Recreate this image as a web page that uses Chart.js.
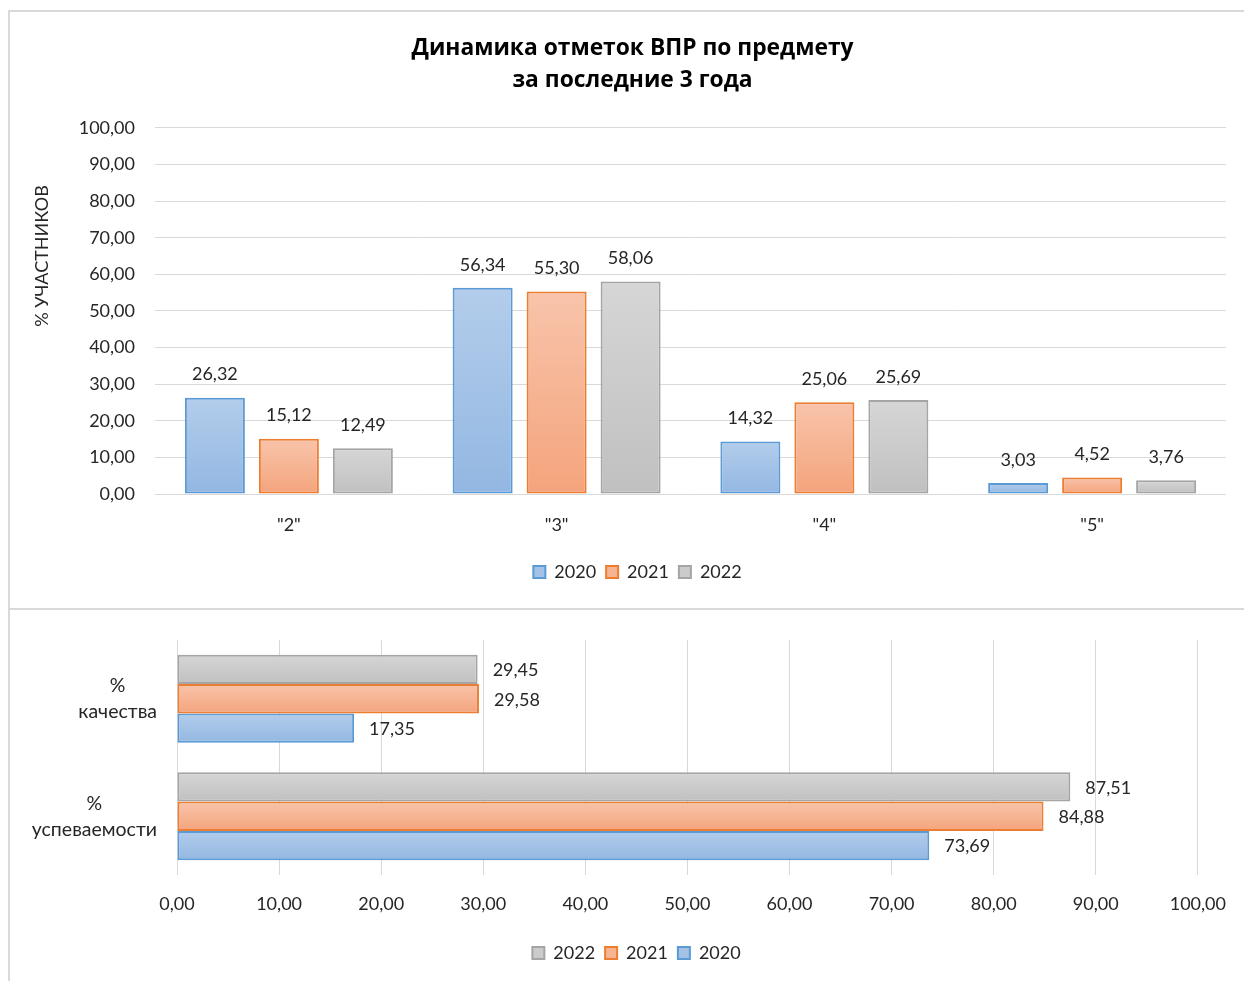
<!DOCTYPE html>
<html><head><meta charset="utf-8">
<script src="https://cdn.jsdelivr.net/npm/chart.js@4.4.0/dist/chart.umd.min.js"></script>
<style>
html,body{margin:0;padding:0;background:#fff;width:1244px;height:981px;overflow:hidden;}
.ln{position:absolute;background:#d9d9d9;}
#c1wrap{position:absolute;left:11px;top:12px;width:1233px;height:597px;}
#c2wrap{position:absolute;left:11px;top:611px;width:1233px;height:370px;}
</style></head>
<body>
<div class="ln" style="left:9px;top:10px;width:1235px;height:2px;"></div>
<div class="ln" style="left:8px;top:10px;width:2px;height:971px;"></div>
<div class="ln" style="left:8px;top:608px;width:1236px;height:2px;"></div>
<div id="c1wrap"><canvas id="c1" width="1233" height="597"></canvas></div>
<div id="c2wrap"><canvas id="c2" width="1233" height="370"></canvas></div>
<script>
// ---------- data ----------
const gradeLabels = ['"2"', '"3"', '"4"', '"5"'];
const grades2020 = [26.32, 56.34, 14.32, 3.03];
const grades2021 = [15.12, 55.30, 25.06, 4.52];
const grades2022 = [12.49, 58.06, 25.69, 3.76];

const rateLabels = [['%', 'качества'], ['%', 'успеваемости']];
const rates2020 = [17.35, 73.69];
const rates2021 = [29.58, 84.88];
const rates2022 = [29.45, 87.51];

const yearNames = ['2020', '2021', '2022'];
const chartTitle = ['Динамика отметок ВПР по предмету', 'за последние 3 года'];
const yAxisTitle = '% УЧАСТНИКОВ';

// ---------- styling ----------
const FONT = "Lato, 'Open Sans', sans-serif";
const TXT = '#262626';
const GRID = '#d9d9d9';
const palette = {
  '2020': {top: '#b3cdeb', bot: '#93b7e2', border: '#5b9bd5', mid: '#a3c2e6'},
  '2021': {top: '#f8c4ab', bot: '#f4a47c', border: '#ed7d31', mid: '#f6b493'},
  '2022': {top: '#d6d6d6', bot: '#c0c0c0', border: '#a5a5a5', mid: '#cbcbcb'}
};
const fmt = v => v.toFixed(2).replace('.', ',');

function grad(year, horizontal) {
  const p = palette[year];
  return function (ctx) {
    const el = ctx.element;
    if (ctx.type !== 'data' || !el || el.y === undefined || isNaN(el.y)) return p.mid;
    let y0, y1;
    if (horizontal) { y0 = el.y - el.height / 2; y1 = el.y + el.height / 2; }
    else { y0 = Math.min(el.y, el.base); y1 = Math.max(el.y, el.base); }
    if (!isFinite(y0) || !isFinite(y1) || y1 - y0 < 1) return p.mid;
    const g = ctx.chart.ctx.createLinearGradient(0, y0, 0, y1);
    g.addColorStop(0, p.top); g.addColorStop(1, p.bot);
    return g;
  };
}

function ds(year, data, horizontal) {
  return {
    label: year, data: data,
    backgroundColor: grad(year, horizontal),
    borderColor: palette[year].border,
    borderWidth: 2, borderSkipped: false
  };
}

const valueLabels = {
  id: 'valueLabels',
  afterDatasetsDraw(chart, args, opts) {
    const c = chart.ctx; c.save();
    c.font = opts.font; c.fillStyle = opts.color;
    chart.data.datasets.forEach((d, di) => {
      const meta = chart.getDatasetMeta(di);
      meta.data.forEach((el, i) => {
        const t = fmt(d.data[i]);
        if (opts.horizontal) { c.textAlign = 'left'; c.textBaseline = 'middle'; c.fillText(t, el.x + opts.offset, el.y + 1); }
        else { c.textAlign = 'center'; c.textBaseline = 'middle'; c.fillText(t, el.x, el.y - opts.offset); }
      });
    });
    c.restore();
  }
};

const sideTitle = {
  id: 'sideTitle',
  afterDraw(chart, args, opts) {
    if (!opts.text) return;
    const c = chart.ctx; c.save();
    c.font = opts.font; c.fillStyle = opts.color;
    c.translate(opts.x, opts.y); c.rotate(-Math.PI / 2);
    c.textAlign = 'center'; c.textBaseline = 'middle';
    c.fillText(opts.text, 0, 0);
    c.restore();
  }
};

const catLabels = {
  id: 'catLabels',
  afterDraw(chart, args, opts) {
    if (!opts.enabled) return;
    const c = chart.ctx; c.save();
    c.font = opts.font; c.fillStyle = opts.color;
    c.textAlign = 'center'; c.textBaseline = 'middle';
    const ys = chart.scales.y;
    chart.data.labels.forEach((lab, i) => {
      const lines = Array.isArray(lab) ? lab : [lab];
      const w = Math.max(...lines.map(l => c.measureText(l).width));
      const cx = opts.right - w / 2;
      const cy = ys.getPixelForValue(i);
      const n = lines.length;
      lines.forEach((l, k) => c.fillText(l, cx, cy + (k - (n - 1) / 2) * opts.lineHeight));
    });
    c.restore();
  }
};

// shifts title / legend boxes horizontally after layout
const boxShift = {
  id: 'boxShift',
  afterLayout(chart, args, opts) {
    if (chart.titleBlock && opts.title) { chart.titleBlock.left += opts.title; chart.titleBlock.right += opts.title; }
    if (chart.legend && opts.legend) { chart.legend.left += opts.legend; chart.legend.right += opts.legend; }
  }
};

const legendLabels = {
  font: {family: FONT, size: 18}, color: TXT,
  boxWidth: 12, boxHeight: 12, padding: 10,
  generateLabels(chart) {
    return chart.data.datasets.map((d, i) => ({
      text: d.label, fillStyle: palette[d.label].mid, strokeStyle: palette[d.label].border,
      lineWidth: 2, hidden: false, datasetIndex: i, fontColor: TXT
    }));
  }
};

// ---------- chart 1 ----------
const chart1 = new Chart(document.getElementById('c1'), {
  type: 'bar',
  data: {
    labels: gradeLabels,
    datasets: [ds(yearNames[0], grades2020), ds(yearNames[1], grades2021), ds(yearNames[2], grades2022)]
  },
  plugins: [valueLabels, sideTitle, boxShift],
  options: {
    responsive: false, animation: false, devicePixelRatio: 1,
    layout: {padding: {left: 0, right: 18, top: 0, bottom: 18}},
    datasets: {bar: {categoryPercentage: 0.829, barPercentage: 0.811}},
    scales: {
      x: {
        grid: {display: false, drawTicks: false}, border: {display: false},
        ticks: {font: {family: FONT, size: 18}, color: TXT, padding: 20},
        afterFit(s) { s.height = 59; }
      },
      y: {
        min: 0, max: 100,
        grid: {color: GRID, lineWidth: 1, drawTicks: false}, border: {display: false},
        ticks: {stepSize: 10, font: {family: FONT, size: 18}, color: TXT, padding: 20, callback: v => fmt(v)},
        afterFit(s) { s.width = 144; }
      }
    },
    plugins: {
      title: {display: true, text: chartTitle, color: '#000',
        font: {family: "'Open Sans', sans-serif", size: 22.8, weight: 'bold', lineHeight: 1.4},
        padding: {top: 21, bottom: 31}},
      legend: {position: 'bottom', labels: legendLabels},
      tooltip: {enabled: false},
      valueLabels: {font: '18px ' + FONT, color: TXT, offset: 23, horizontal: false},
      sideTitle: {text: yAxisTitle, font: '18px ' + FONT, color: TXT, x: 31, y: 244},
      boxShift: {title: 14, legend: 19}
    }
  }
});
chart1.update();

// ---------- chart 2 ----------
const chart2 = new Chart(document.getElementById('c2'), {
  type: 'bar',
  data: {
    labels: rateLabels,
    datasets: [ds(yearNames[2], rates2022, true), ds(yearNames[1], rates2021, true), ds(yearNames[0], rates2020, true)]
  },
  plugins: [valueLabels, catLabels, boxShift],
  options: {
    indexAxis: 'y',
    responsive: false, animation: false, devicePixelRatio: 1,
    layout: {padding: {left: 0, right: 46, top: 29, bottom: 9}},
    datasets: {bar: {categoryPercentage: 0.75, barPercentage: 1}},
    scales: {
      y: {
        grid: {display: false, drawTicks: false}, border: {display: false},
        ticks: {display: false},
        afterFit(s) { s.width = 166; }
      },
      x: {
        min: 0, max: 100,
        grid: {color: GRID, lineWidth: 1, drawTicks: false}, border: {display: false},
        ticks: {stepSize: 10, font: {family: FONT, size: 18}, color: TXT, padding: 18, callback: v => fmt(v)},
        afterFit(s) { s.height = 59; }
      }
    },
    plugins: {
      legend: {position: 'bottom', labels: legendLabels},
      tooltip: {enabled: false},
      valueLabels: {font: '18px ' + FONT, color: TXT, offset: 15, horizontal: true},
      catLabels: {enabled: true, font: '19.5px ' + FONT, color: TXT, right: 146, lineHeight: 26},
      boxShift: {legend: 32}
    }
  }
});
chart2.update();
</script>
</body></html>
